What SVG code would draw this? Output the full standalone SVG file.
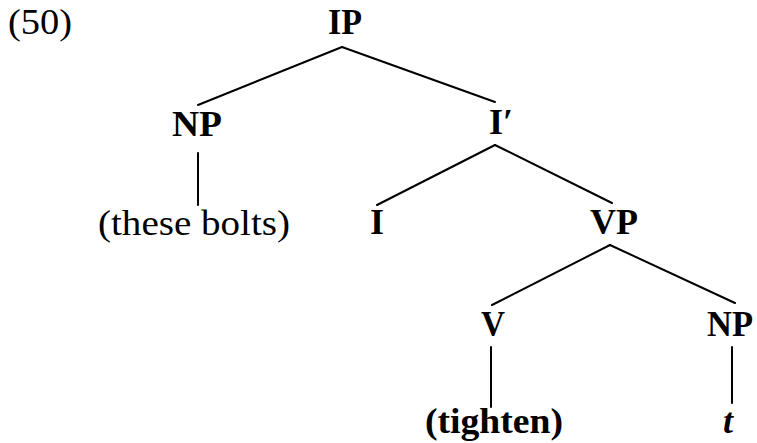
<svg xmlns="http://www.w3.org/2000/svg" width="757" height="443" viewBox="0 0 757 443">
<style>
.lbl{font-family:"Liberation Serif","Times New Roman",serif;font-weight:bold;font-size:36px;fill:#000}
.reg{font-family:"Liberation Serif","Times New Roman",serif;font-size:36px;fill:#000}
.edge{stroke:#000;stroke-width:2;fill:none;stroke-linecap:round}
</style>
<rect width="757" height="443" fill="#fff"/>
<text class="reg" x="8" y="34" textLength="64" lengthAdjust="spacingAndGlyphs">(50)</text>
<g id="connectors">
<line class="edge" x1="342" y1="47" x2="198" y2="105"/>
<line class="edge" x1="342" y1="47" x2="495" y2="102"/>
<line class="edge" x1="198" y1="153" x2="198" y2="205"/>
<line class="edge" x1="495" y1="145" x2="377" y2="205"/>
<line class="edge" x1="495" y1="145" x2="612" y2="203"/>
<line class="edge" x1="610" y1="245" x2="492" y2="305"/>
<line class="edge" x1="610" y1="245" x2="735" y2="303"/>
<line class="edge" x1="491" y1="347" x2="491" y2="407"/>
<line class="edge" x1="732" y1="347" x2="732" y2="403"/>
</g>
<g id="node-IP"><text class="lbl" x="328" y="34" textLength="34" lengthAdjust="spacingAndGlyphs">IP</text></g>
<g id="node-NP1"><text class="lbl" x="172" y="136" textLength="50" lengthAdjust="spacingAndGlyphs">NP</text></g>
<g id="node-Ibar"><text class="lbl" x="489" y="134">I′</text></g>
<g id="node-these-bolts"><text class="reg" x="98" y="235" textLength="192" lengthAdjust="spacingAndGlyphs">(these bolts)</text></g>
<g id="node-I"><text class="lbl" x="370" y="234">I</text></g>
<g id="node-VP"><text class="lbl" x="590" y="234" textLength="48" lengthAdjust="spacingAndGlyphs">VP</text></g>
<g id="node-V"><text class="lbl" x="481" y="336" textLength="24" lengthAdjust="spacingAndGlyphs">V</text></g>
<g id="node-NP2"><text class="lbl" x="707" y="336" textLength="46" lengthAdjust="spacingAndGlyphs">NP</text></g>
<g id="node-tighten"><text class="lbl" x="425" y="433" textLength="138" lengthAdjust="spacingAndGlyphs">(tighten)</text></g>
<g id="node-t"><text class="lbl" x="723" y="433" font-style="italic">t</text></g>
</svg>
